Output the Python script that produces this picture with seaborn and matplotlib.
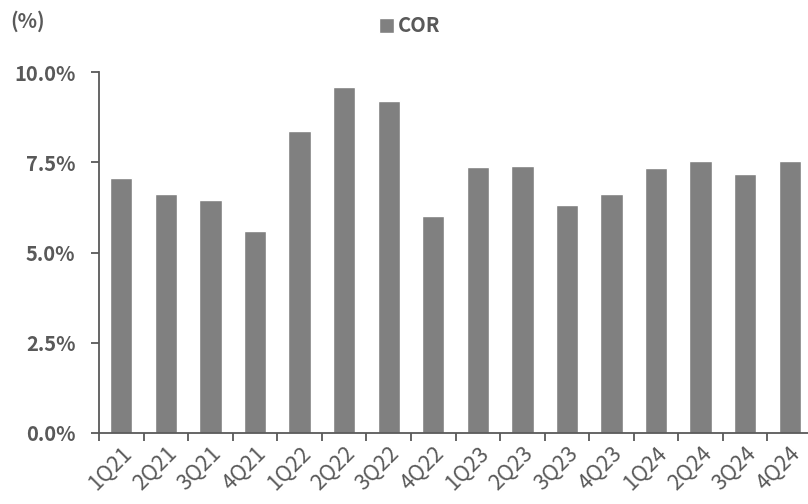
import matplotlib
matplotlib.use("Agg")
import matplotlib.pyplot as plt
import seaborn as sns
import pandas as pd
from matplotlib.ticker import FixedLocator, FuncFormatter

quarters = ["1Q21", "2Q21", "3Q21", "4Q21", "1Q22", "2Q22", "3Q22", "4Q22",
            "1Q23", "2Q23", "3Q23", "4Q23", "1Q24", "2Q24", "3Q24", "4Q24"]
cor = [7.06, 6.61, 6.47, 5.61, 8.37, 9.58, 9.19, 6.02,
       7.37, 7.40, 6.32, 6.62, 7.35, 7.53, 7.17, 7.55]
y_ticks = [0.0, 2.5, 5.0, 7.5, 10.0]

text_color = "#595959"
bar_color = "#808080"

sns.set_theme(style="white")
plt.rcParams["font.family"] = ["Noto Sans CJK KR", "DejaVu Sans"]
plt.rcParams["font.weight"] = "bold"

df = pd.DataFrame({"quarter": quarters, "COR": cor})

fig = plt.figure(figsize=(8.08, 5.04), dpi=100)
ax = fig.add_axes([0.1225, 0.1409, 0.8825, 0.716])

sns.barplot(data=df, x="quarter", y="COR", color=bar_color, width=0.5,
            saturation=1, ax=ax, label="COR")

ax.set_xlim(-0.5, len(quarters) - 0.5)
ax.set_ylim(0, 10)
ax.set_yticks(y_ticks)
ax.yaxis.set_major_formatter(FuncFormatter(lambda v, _: f"{v:.1f}%"))
ax.set_xlabel("")
ax.set_ylabel("")

for side in ("top", "right"):
    ax.spines[side].set_visible(False)
for side in ("left", "bottom"):
    ax.spines[side].set_color(text_color)
    ax.spines[side].set_linewidth(1.3)

# category boundaries carry the tick marks, labels sit under bar centres
ax.xaxis.set_minor_locator(FixedLocator([i - 0.5 for i in range(len(quarters) + 1)]))
ax.tick_params(axis="x", which="major", length=0, pad=7, labelsize=15.5,
               labelcolor=text_color)
ax.tick_params(axis="x", which="minor", bottom=True, length=6, width=1.3,
               color=text_color, direction="out")
ax.tick_params(axis="y", left=True, length=6, width=1.3, color=text_color,
               direction="out", labelsize=14.5, labelcolor=text_color, pad=11)
for lbl in ax.get_xticklabels():
    lbl.set_rotation(45)
    lbl.set_ha("right")
    lbl.set_rotation_mode("anchor")
    lbl.set_fontweight("normal")

leg = ax.legend(loc="center", bbox_to_anchor=(410 / 808, 1 - 26 / 504),
                bbox_transform=fig.transFigure, frameon=False,
                handlelength=0.75, handleheight=0.75, handletextpad=0.2,
                fontsize=14.5)
for t in leg.get_texts():
    t.set_color(text_color)

fig.text(10 / 808, 1 - 21 / 504, "(%)", fontsize=14.5, color=text_color,
         va="center", ha="left")

fig.savefig("out.png", dpi=100)
